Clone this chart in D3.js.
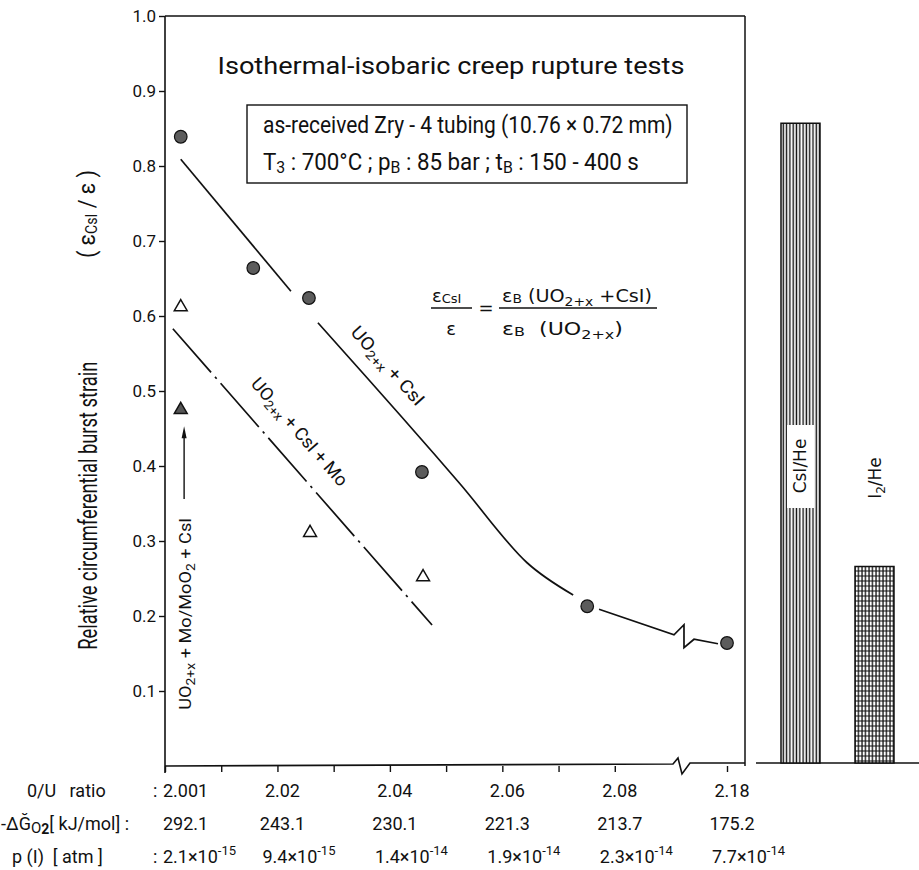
<!DOCTYPE html>
<html>
<head>
<meta charset="utf-8">
<script src="https://cdn.jsdelivr.net/npm/d3@7"></script>
<style>
  body { margin: 0; background: #fff; }
  svg text { font-family: Roboto, "Liberation Sans", sans-serif; fill: #111; white-space: pre; }
  svg text.mono { font-family: "DejaVu Sans", sans-serif; }
</style>
</head>
<body>
<svg id="chart" width="919" height="870"></svg>
<script>
// measured points: O/U ratio vs relative burst strain
const csiOU = [2.0028, 2.0157, 2.0256, 2.0457, 2.0751, 2.18];
const csiStrain = [0.839, 0.664, 0.624, 0.392, 0.213, 0.164];
const moOU = [2.0028, 2.0258, 2.0459];
const moStrain = [0.612, 0.311, 0.252];
const mixOU = [2.0028];
const mixStrain = [0.475];

// hand drawn fit curves
const fitA_OU = [2.0028, 2.0224];
const fitA_S = [0.809, 0.633];
const fitB_OU = [2.0272, 2.0418, 2.0525, 2.0644, 2.0726];
const fitB_S = [0.591, 0.468, 0.376, 0.271, 0.228];
const fitC_OU = [2.0772, 2.0948];
const fitC_S = [0.209, 0.175];
const fitD_OU = [2.127, 2.1655];
const fitD_S = [0.169, 0.163];
const moFitOU = [2.0014, 2.0475];
const moFitS = [0.583, 0.188];

// reference bars (no O/U)
const barCats = ['CsI/He', 'I2/He'];
const barVals = [0.857, 0.266];

// axes
const yTicks = [0.1, 0.2, 0.3, 0.4, 0.5, 0.6, 0.7, 0.8, 0.9, 1.0];
const ouMinor = [2.00, 2.01, 2.02, 2.03, 2.04, 2.05, 2.06, 2.07, 2.08, 2.18];
const ouMajor = [2.00, 2.02, 2.04, 2.06, 2.08, 2.18];
const ouLabels = ['2.001', '2.02', '2.04', '2.06', '2.08', '2.18'];
const gLabels = ['292.1', '243.1', '230.1', '221.3', '213.7', '175.2'];
const pMant = ['2.1', '9.4', '1.4', '1.9', '2.3', '7.7'];
const pExp = ['-15', '-15', '-14', '-14', '-14', '-14'];

const svg = d3.select('#chart');

// broken x axis: 2.09 .. 2.18 squeezed
const x = d3.scaleLinear().domain([2.0, 2.09, 2.18, 2.21]).range([165, 671, 727, 745]);
const y = d3.scaleLinear().domain([0, 1]).range([766, 16]);
const barX = d3.scaleBand().domain(barCats).range([744, 931]).paddingInner(0.473).paddingOuter(0.5);

const defs = svg.append('defs');
const vh = defs.append('pattern').attr('id', 'vhatch').attr('patternUnits', 'userSpaceOnUse')
  .attr('width', 3.3).attr('height', 10);
vh.append('rect').attr('width', 3.3).attr('height', 10).attr('fill', '#fff');
vh.append('line').attr('x1', 1.2).attr('x2', 1.2).attr('y1', 0).attr('y2', 10)
  .attr('stroke', '#111').attr('stroke-width', 1.4);
const gh = defs.append('pattern').attr('id', 'grid').attr('patternUnits', 'userSpaceOnUse')
  .attr('width', 3.5).attr('height', 5);
gh.append('rect').attr('width', 3.5).attr('height', 5).attr('fill', '#fff');
gh.append('line').attr('x1', 1).attr('x2', 1).attr('y1', 0).attr('y2', 5)
  .attr('stroke', '#111').attr('stroke-width', 1.3);
gh.append('line').attr('x1', 0).attr('x2', 3.5).attr('y1', 1).attr('y2', 1)
  .attr('stroke', '#111').attr('stroke-width', 1);

const ink = '#111';

// squeeze a text horizontally to a given width (condensed look)
function fitWidth(sel, w) {
  const len = sel.node().getComputedTextLength();
  const tr = sel.attr('transform') || '';
  sel.attr('transform', `${tr} scale(${w / len},1)`);
}

// frame
svg.append('line').attr('x1', x(2.0)).attr('x2', x(2.21)).attr('y1', y(1)).attr('y2', y(1))
  .attr('stroke', ink).attr('stroke-width', 1.5);
svg.append('line').attr('x1', x(2.21)).attr('x2', x(2.21)).attr('y1', y(1)).attr('y2', y(0))
  .attr('stroke', ink).attr('stroke-width', 1.5);
svg.append('line').attr('x1', x(2.0)).attr('x2', x(2.0)).attr('y1', y(1)).attr('y2', y(0) + 7)
  .attr('stroke', ink).attr('stroke-width', 1.6);

// y axis
svg.append('g')
  .attr('transform', `translate(${x(2.0)},0)`)
  .call(d3.axisLeft(y).tickValues(yTicks).tickSize(6).tickSizeOuter(0).tickFormat(d3.format('.1f')))
  .call(g => g.select('.domain').remove())
  .call(g => g.selectAll('line').attr('stroke', ink).attr('stroke-width', 1.4))
  .call(g => g.selectAll('text').attr('font-size', 17).attr('x', -9)
    .style('font-family', 'Roboto, sans-serif').attr('fill', ink));

// x axis with break
const xb = x(2.09) + 2;
const axisPath = d3.path();
axisPath.moveTo(x(2.0), y(0));
axisPath.lineTo(xb, y(0) - 2);
axisPath.lineTo(xb + 5, y(0) - 8);
axisPath.lineTo(xb + 9, y(0) + 8);
axisPath.lineTo(xb + 17, y(0) - 3);
axisPath.lineTo(x(2.21), y(0) - 3);
svg.append('path').attr('d', axisPath.toString()).attr('fill', 'none')
  .attr('stroke', ink).attr('stroke-width', 1.6);

svg.append('g')
  .attr('transform', `translate(0,${y(0)})`)
  .call(d3.axisBottom(x).tickValues(ouMinor).tickSize(6).tickSizeOuter(0).tickFormat(''))
  .call(g => g.select('.domain').remove())
  .call(g => g.selectAll('line').attr('stroke', ink).attr('stroke-width', 1.4));

// rows under the axis
const rowY = [797, 830, 863];
const rowFont = 18;
svg.append('text').attr('x', 27).attr('y', rowY[0]).attr('font-size', rowFont).text('0/U   ratio');
svg.append('text').attr('x', 153).attr('y', rowY[0]).attr('font-size', rowFont).text(':');
const gRow = svg.append('text').attr('x', 1).attr('y', rowY[1]).attr('font-size', rowFont);
gRow.append('tspan').text('-ΔĞ');
gRow.append('tspan').attr('font-size', 15).attr('dy', 3).text('O');
gRow.append('tspan').attr('font-size', 14).attr('dy', 1).attr('font-weight', 'bold').text('2');
gRow.append('tspan').attr('dy', -4).text('[ kJ/mol] :');
svg.append('text').attr('x', 12).attr('y', rowY[2]).attr('font-size', rowFont).text('p (I)  [ atm ]');
svg.append('text').attr('x', 153).attr('y', rowY[2]).attr('font-size', rowFont).text(':');

ouMajor.forEach((v, i) => {
  const first = i === 0;
  const tx = first ? x(v) - 2 : x(v) + 5;
  const anchor = first ? 'start' : 'middle';
  svg.append('text').attr('x', tx).attr('y', rowY[0]).attr('font-size', rowFont)
    .attr('text-anchor', anchor).text(ouLabels[i]);
  svg.append('text').attr('x', tx).attr('y', rowY[1]).attr('font-size', rowFont)
    .attr('text-anchor', anchor).text(gLabels[i]);
  const pt = svg.append('text').attr('x', first ? x(v) - 2 : x(v) - 15).attr('y', rowY[2])
    .attr('font-size', rowFont);
  pt.append('tspan').text(pMant[i] + '×10');
  pt.append('tspan').attr('font-size', 13).attr('dy', -8).text(pExp[i]);
});

// y axis title
svg.append('text').attr('transform', `translate(97,${y(0.347)}) rotate(-90)`)
  .attr('text-anchor', 'middle').attr('font-size', 25)
  .attr('textLength', 288).attr('lengthAdjust', 'spacingAndGlyphs')
  .text('Relative circumferential burst strain');
const ylab2 = svg.append('text').attr('transform', `translate(95,${y(0.736)}) rotate(-90)`)
  .attr('text-anchor', 'middle').attr('font-size', 24)
  .attr('textLength', 88).attr('lengthAdjust', 'spacingAndGlyphs');
ylab2.append('tspan').text('( ε');
ylab2.append('tspan').attr('font-size', 16).attr('dy', 2).text('CsI');
ylab2.append('tspan').attr('dy', -2).text(' / ε )');

// title and condition box
svg.append('text').attr('x', 451).attr('y', 74).attr('text-anchor', 'middle')
  .attr('font-size', 24).attr('textLength', 467).attr('lengthAdjust', 'spacingAndGlyphs')
  .text('Isothermal-isobaric creep rupture tests');
svg.append('rect').attr('x', 247).attr('y', 105).attr('width', 440).attr('height', 78)
  .attr('fill', 'none').attr('stroke', ink).attr('stroke-width', 1.4);
const cond1 = svg.append('text').attr('transform', 'translate(263,133)').attr('font-size', 24)
  .text('as-received Zry - 4 tubing (10.76 × 0.72 mm)');
fitWidth(cond1, 410);
const cond = svg.append('text').attr('transform', 'translate(263,170)').attr('font-size', 24);
cond.append('tspan').text('T');
cond.append('tspan').attr('font-size', 17).attr('dy', 3).text('3');
cond.append('tspan').attr('dy', -3).text(' : 700°C ; p');
cond.append('tspan').attr('font-size', 17).attr('dy', 3).text('B');
cond.append('tspan').attr('dy', -3).text(' : 85 bar ; t');
cond.append('tspan').attr('font-size', 17).attr('dy', 3).text('B');
cond.append('tspan').attr('dy', -3).text(' : 150 - 400 s');
fitWidth(cond, 376);

// formula
const fs = 18;
const subFs = 13;
const f1 = svg.append('text').attr('class', 'mono').attr('font-size', fs).attr('x', 432).attr('y', 302);
f1.append('tspan').text('ε');
f1.append('tspan').attr('font-size', subFs).attr('dy', 1).text('CsI');
svg.append('line').attr('x1', 431).attr('x2', 472).attr('y1', 308).attr('y2', 308)
  .attr('stroke', ink).attr('stroke-width', 1.3);
svg.append('text').attr('class', 'mono').attr('font-size', fs).attr('x', 451).attr('y', 335)
  .attr('text-anchor', 'middle').text('ε');
svg.append('text').attr('class', 'mono').attr('font-size', fs).attr('x', 486).attr('y', 314)
  .attr('text-anchor', 'middle').text('=');
const f2 = svg.append('text').attr('class', 'mono').attr('font-size', fs)
  .attr('transform', 'translate(502,302)');
f2.append('tspan').text('ε');
f2.append('tspan').attr('font-size', subFs).attr('dy', 1).text('B');
f2.append('tspan').attr('dy', -1).text(' (UO');
f2.append('tspan').attr('font-size', subFs).attr('dy', 4).text('2+x');
f2.append('tspan').attr('dy', -4).text(' +CsI)');
fitWidth(f2, 150);
svg.append('line').attr('x1', 499).attr('x2', 657).attr('y1', 308).attr('y2', 308)
  .attr('stroke', ink).attr('stroke-width', 1.3);
const f3 = svg.append('text').attr('class', 'mono').attr('font-size', fs)
  .attr('transform', 'translate(502,335)');
f3.append('tspan').text('ε');
f3.append('tspan').attr('font-size', subFs).attr('dy', 1).text('B');
f3.append('tspan').attr('dy', -1).text('  (UO');
f3.append('tspan').attr('font-size', subFs).attr('dy', 4).text('2+x');
f3.append('tspan').attr('dy', -4).text(')');
fitWidth(f3, 121);

// fit lines
const line = d3.line().x(d => x(d[0])).y(d => y(d[1]));
svg.append('path').datum(d3.zip(fitA_OU, fitA_S)).attr('d', line)
  .attr('fill', 'none').attr('stroke', ink).attr('stroke-width', 1.7);
svg.append('path').datum(d3.zip(fitB_OU, fitB_S)).attr('d', line.curve(d3.curveCatmullRom.alpha(0.5)))
  .attr('fill', 'none').attr('stroke', ink).attr('stroke-width', 1.7);
line.curve(d3.curveLinear);

// last part of the curve with break mark
const c0 = [x(fitC_OU[0]), y(fitC_S[0])];
const c1 = [x(fitC_OU[1]), y(fitC_S[1])];
const d0 = [x(fitD_OU[0]), y(fitD_S[0])];
const d1 = [x(fitD_OU[1]), y(fitD_S[1])];
const brk = d3.path();
brk.moveTo(c0[0], c0[1]);
brk.lineTo(c1[0], c1[1]);
brk.lineTo(c1[0] + 10, c1[1] - 10);
brk.lineTo(c1[0] + 10, c1[1] + 13);
brk.lineTo(d0[0], d0[1]);
brk.lineTo(d1[0], d1[1]);
svg.append('path').attr('d', brk.toString()).attr('fill', 'none')
  .attr('stroke', ink).attr('stroke-width', 1.7).attr('stroke-linejoin', 'miter');

svg.append('path').datum(d3.zip(moFitOU, moFitS)).attr('d', line)
  .attr('fill', 'none').attr('stroke', ink).attr('stroke-width', 1.7)
  .attr('stroke-dasharray', '58,6,2.5,6');

// markers
svg.selectAll('.csi').data(d3.zip(csiOU, csiStrain)).enter().append('circle')
  .attr('class', 'csi').attr('cx', d => x(d[0])).attr('cy', d => y(d[1])).attr('r', 6.3)
  .attr('fill', '#5c5c5c').attr('stroke', ink).attr('stroke-width', 1.2);
const tri = d3.symbol().type(d3.symbolTriangle).size(72);
svg.selectAll('.mo').data(d3.zip(moOU, moStrain)).enter().append('path')
  .attr('class', 'mo').attr('d', tri)
  .attr('transform', d => `translate(${x(d[0])},${y(d[1])})`)
  .attr('fill', '#fff').attr('stroke', ink).attr('stroke-width', 1.5);
svg.selectAll('.mix').data(d3.zip(mixOU, mixStrain)).enter().append('path')
  .attr('class', 'mix').attr('d', tri)
  .attr('transform', d => `translate(${x(d[0])},${y(d[1])})`)
  .attr('fill', '#555').attr('stroke', ink).attr('stroke-width', 1.5);

// arrow to filled triangle
const ax = x(2.0034);
svg.append('line').attr('x1', ax).attr('x2', ax).attr('y1', y(0.356)).attr('y2', y(0.44))
  .attr('stroke', ink).attr('stroke-width', 1.4);
svg.append('path')
  .attr('d', `M${ax},${y(0.453)} L${ax - 2.5},${y(0.437)} L${ax + 2.5},${y(0.437)} Z`)
  .attr('fill', ink);

// curve labels
const lab1 = svg.append('text')
  .attr('transform', `translate(${x(2.0388)},${y(0.528)}) rotate(48)`)
  .attr('text-anchor', 'middle').attr('font-size', 18)
  .attr('textLength', 100).attr('lengthAdjust', 'spacingAndGlyphs');
lab1.append('tspan').text('UO');
lab1.append('tspan').attr('font-size', 13).attr('dy', 4).text('2+x');
lab1.append('tspan').attr('dy', -4).text(' + CsI');

const lab2 = svg.append('text')
  .attr('transform', `translate(${x(2.0231)},${y(0.44)}) rotate(49)`)
  .attr('text-anchor', 'middle').attr('font-size', 18)
  .attr('textLength', 137).attr('lengthAdjust', 'spacingAndGlyphs');
lab2.append('tspan').text('UO');
lab2.append('tspan').attr('font-size', 13).attr('dy', 4).text('2+x');
lab2.append('tspan').attr('dy', -4).text(' + CsI + Mo');

const lab3 = svg.append('text')
  .attr('transform', `translate(${x(2.0034) + 7},${y(0.203)}) rotate(-90)`)
  .attr('text-anchor', 'middle').attr('font-size', 17)
  .attr('textLength', 192).attr('lengthAdjust', 'spacingAndGlyphs');
lab3.append('tspan').text('UO');
lab3.append('tspan').attr('font-size', 13).attr('dy', 4).text('2+x');
lab3.append('tspan').attr('dy', -4).text(' + Mo/MoO');
lab3.append('tspan').attr('font-size', 13).attr('dy', 4).text('2');
lab3.append('tspan').attr('dy', -4).text(' + CsI');

// reference bars
svg.append('line').attr('x1', barX('CsI/He') - 25).attr('x2', 919)
  .attr('y1', y(0) - 3).attr('y2', y(0) - 3).attr('stroke', ink).attr('stroke-width', 1.4);
svg.selectAll('.bar').data(d3.zip(barCats, barVals)).enter().append('rect')
  .attr('class', 'bar')
  .attr('x', d => barX(d[0])).attr('width', barX.bandwidth())
  .attr('y', d => y(d[1])).attr('height', d => y(0) - 3 - y(d[1]))
  .attr('fill', (d, i) => i === 0 ? 'url(#vhatch)' : 'url(#grid)')
  .attr('stroke', ink).attr('stroke-width', 1.5);

const bc1 = barX('CsI/He') + barX.bandwidth() / 2;
svg.append('rect').attr('x', bc1 - 13.5).attr('y', y(0.4) - 41).attr('width', 27).attr('height', 83)
  .attr('fill', '#fff');
svg.append('text').attr('class', 'mono')
  .attr('transform', `translate(${bc1 + 6},${y(0.4)}) rotate(-90)`)
  .attr('text-anchor', 'middle').attr('font-size', 17).text('CsI/He');

const bc2 = barX('I2/He') + barX.bandwidth() / 2;
const i2 = svg.append('text').attr('class', 'mono')
  .attr('transform', `translate(${bc2 + 6},${y(0.384)}) rotate(-90)`)
  .attr('text-anchor', 'middle').attr('font-size', 17);
i2.append('tspan').text('I');
i2.append('tspan').attr('font-size', 12).attr('dy', 4).text('2');
i2.append('tspan').attr('dy', -4).text('/He');
</script>
</body>
</html>
